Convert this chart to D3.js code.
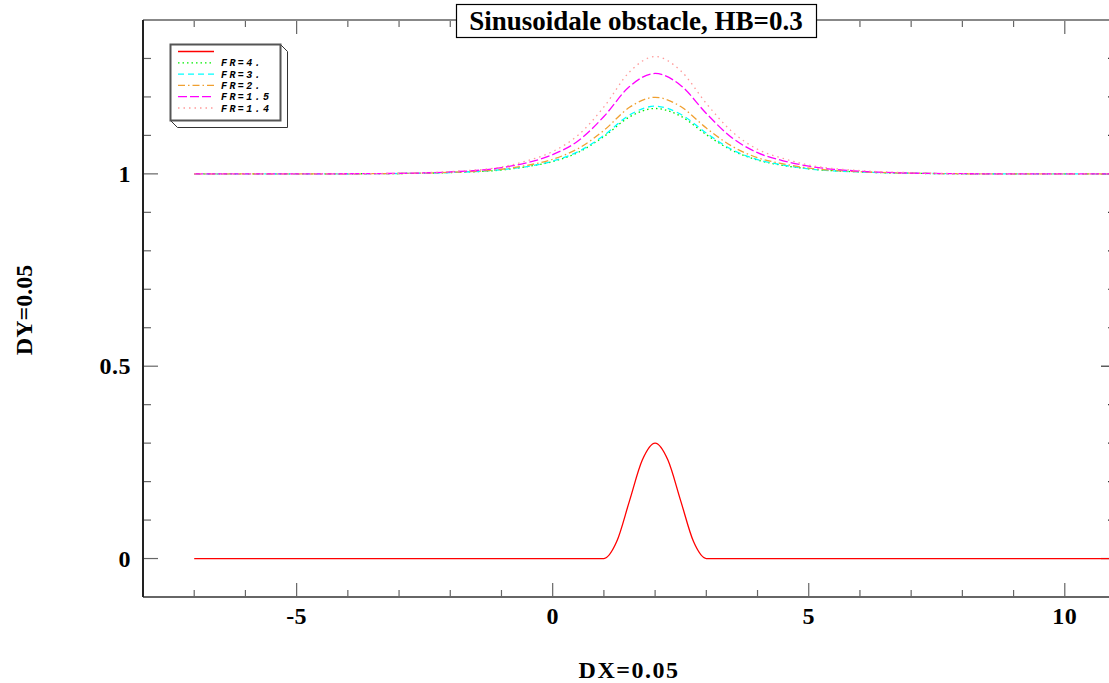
<!DOCTYPE html>
<html>
<head>
<meta charset="utf-8">
<title>Sinusoidale obstacle</title>
<style>
  body { margin: 0; background: #fff; }
  svg { display: block; }
  .tick-label { font-family: "Liberation Serif", "Times New Roman", serif; font-weight: bold; font-size: 24px; letter-spacing: 0.5px; fill: #000; }
  .axis-title { font-family: "Liberation Serif", "Times New Roman", serif; font-weight: bold; font-size: 24px; letter-spacing: 1.5px; fill: #000; }
  .title { font-family: "Liberation Serif", "Times New Roman", serif; font-weight: bold; font-size: 27px; fill: #000; }
  .leg { font-family: "Liberation Mono", "Courier New", monospace; font-weight: bold; font-style: italic; font-size: 10px; letter-spacing: 2.4px; fill: #000; }
</style>
</head>
<body>
<div id="chart"></div>
<script src="https://d3js.org/d3.v7.min.js"></script>
<script>
(function(d3) {
  'use strict';

  // abscissa of the free surface samples
  var xs = [-7, -5, -4, -3, -2, -1, -0.5, 0, 0.5, 1, 1.5, 2, 2.5, 3, 3.5, 4, 4.5, 5, 6, 7, 8, 9, 11];

  // free surface for each Froude number
  var fr4  = [1, 1, 1.0002, 1.0009, 1.0034, 1.010, 1.019, 1.032, 1.056, 1.097, 1.148, 1.170, 1.150, 1.102, 1.061, 1.036, 1.022, 1.013, 1.005, 1.0015, 1.0003, 1, 1];
  var fr3  = [1, 1, 1.0002, 1.0009, 1.0035, 1.011, 1.019, 1.033, 1.058, 1.100, 1.153, 1.176, 1.155, 1.106, 1.063, 1.037, 1.023, 1.013, 1.005, 1.0016, 1.0004, 1, 1];
  var fr2  = [1, 1, 1.0002, 1.001, 1.004, 1.012, 1.022, 1.038, 1.066, 1.113, 1.173, 1.199, 1.175, 1.119, 1.072, 1.042, 1.026, 1.015, 1.0056, 1.0018, 1.0004, 1, 1];
  var fr15 = [1, 1, 1.0003, 1.0013, 1.005, 1.016, 1.029, 1.050, 1.086, 1.149, 1.227, 1.261, 1.230, 1.157, 1.094, 1.055, 1.034, 1.020, 1.007, 1.002, 1.0005, 1, 1];
  var fr14 = [1, 1, 1.0003, 1.0015, 1.006, 1.018, 1.034, 1.058, 1.101, 1.174, 1.265, 1.305, 1.268, 1.183, 1.110, 1.064, 1.040, 1.023, 1.0085, 1.003, 1.0006, 1, 1];

  // bottom obstacle
  var obsX = [-7, 1, 1.25, 1.5, 1.75, 2, 2.25, 2.5, 2.75, 3, 11];
  var obsY = [0, 0, 0.044, 0.15, 0.256, 0.3, 0.256, 0.15, 0.044, 0, 0];

  var labels = ['', 'FR=4.', 'FR=3.', 'FR=2.', 'FR=1.5', 'FR=1.4'];
  var colors = ['#ff0000', '#00ee00', '#00ffff', '#f0a030', '#ff00ff', '#ff9a9a'];
  var dashes = [null, '1.5,3', '6,4', '7,3,1.5,3', '9,3', '1.5,4'];

  var xTicks = [-5, 0, 5, 10];
  var yTicks = [0, 0.5, 1];

  var width = 1109, height = 683;
  var margin = { left: 143, top: 20, bottom: 86 };

  var x = d3.scaleLinear().domain([-8, 11]).range([margin.left, 1116]);
  var y = d3.scaleLinear().domain([-0.1, 1.4]).range([height - margin.bottom, margin.top]);

  var svg = d3.select('#chart').append('svg')
    .attr('width', width)
    .attr('height', height);

  var series = [
    { xs: obsX, ys: obsY },
    { xs: xs, ys: fr4 },
    { xs: xs, ys: fr3 },
    { xs: xs, ys: fr2 },
    { xs: xs, ys: fr15 },
    { xs: xs, ys: fr14 }
  ];

  var line = d3.line()
    .x(function(d) { return x(d[0]); })
    .y(function(d) { return y(d[1]); })
    .curve(d3.curveMonotoneX);

  // frame ticks
  var minorX = d3.range(-8, 12, 1);
  var minorY = d3.range(-0.1, 1.45, 0.1).map(function(v) { return Math.round(v * 10) / 10; });
  var tk = svg.append('g').attr('stroke', '#666').attr('stroke-width', 1.2);

  minorX.forEach(function(v) {
    var len = xTicks.indexOf(v) >= 0 ? 14 : 7;
    tk.append('line').attr('x1', x(v)).attr('x2', x(v))
      .attr('y1', y(-0.1)).attr('y2', y(-0.1) - len);
    tk.append('line').attr('x1', x(v)).attr('x2', x(v))
      .attr('y1', y(1.4)).attr('y2', y(1.4) + len);
  });
  minorY.forEach(function(v) {
    var len = yTicks.indexOf(v) >= 0 ? 15 : 8;
    tk.append('line').attr('x1', x(-8)).attr('x2', x(-8) + len)
      .attr('y1', y(v)).attr('y2', y(v));
    tk.append('line').attr('x1', x(11)).attr('x2', x(11) - len)
      .attr('y1', y(v)).attr('y2', y(v)).attr('stroke', '#333');
  });

  // frame
  svg.append('line').attr('x1', x(-8)).attr('x2', x(11)).attr('y1', y(1.4)).attr('y2', y(1.4))
    .attr('stroke', '#888').attr('stroke-width', 2);
  svg.append('line').attr('x1', x(-8)).attr('x2', x(11)).attr('y1', y(-0.1)).attr('y2', y(-0.1))
    .attr('stroke', '#666').attr('stroke-width', 2);
  svg.append('line').attr('x1', x(-8)).attr('x2', x(-8)).attr('y1', y(1.4)).attr('y2', y(-0.1))
    .attr('stroke', '#222').attr('stroke-width', 2);

  // tick labels
  svg.selectAll('.xl').data(xTicks).enter().append('text')
    .attr('class', 'tick-label')
    .attr('x', function(d) { return x(d); })
    .attr('y', 624)
    .attr('text-anchor', 'middle')
    .text(function(d) { return d; });

  svg.selectAll('.yl').data(yTicks).enter().append('text')
    .attr('class', 'tick-label')
    .attr('x', 131)
    .attr('y', function(d) { return y(d) + 8; })
    .attr('text-anchor', 'end')
    .text(function(d) { return d; });

  svg.append('text').attr('class', 'axis-title')
    .attr('x', 629).attr('y', 678).attr('text-anchor', 'middle')
    .text('DX=0.05');
  svg.append('text').attr('class', 'axis-title')
    .attr('transform', 'translate(32,310) rotate(-90)')
    .attr('text-anchor', 'middle')
    .style('letter-spacing', '0px')
    .text('DY=0.05');

  // curves
  svg.append('g').selectAll('path').data(series).enter().append('path')
    .attr('fill', 'none')
    .attr('stroke', function(d, i) { return colors[i]; })
    .attr('stroke-width', 1.3)
    .attr('stroke-dasharray', function(d, i) { return dashes[i]; })
    .attr('d', function(d) { return line(d3.zip(d.xs, d.ys)); });

  // title
  svg.append('rect').attr('x', 456.5).attr('y', 4.5).attr('width', 360).attr('height', 33)
    .attr('fill', '#fff').attr('stroke', '#000').attr('stroke-width', 1.2);
  svg.append('text').attr('class', 'title')
    .attr('x', 636).attr('y', 30).attr('text-anchor', 'middle')
    .text('Sinusoidale obstacle, HB=0.3');

  // legend box with 3d edge
  var lx = 170.5, ly = 44.5, lw = 110, lh = 76, d = 7;
  var lg = svg.append('g').attr('stroke', '#333').attr('stroke-width', 1).attr('fill', '#fff');
  lg.append('path').attr('d', 'M' + (lx + lw) + ',' + ly + 'l' + d + ',' + d + 'v' + lh +
    'h' + (-lw) + 'l' + (-d) + ',' + (-d) + 'z');
  lg.append('rect').attr('x', lx).attr('y', ly).attr('width', lw).attr('height', lh)
    .attr('stroke', '#555').attr('stroke-width', 2);

  var leg = svg.append('g');
  labels.forEach(function(lab, i) {
    var yy = 51.5 + i * 11.3;
    leg.append('line').attr('x1', 178).attr('x2', 214).attr('y1', yy).attr('y2', yy)
      .attr('stroke', colors[i]).attr('stroke-width', 1.3)
      .attr('stroke-dasharray', dashes[i]);
    leg.append('text').attr('class', 'leg').attr('x', 221).attr('y', yy + 3.5).text(lab);
  });

})(window.d3);
</script>
</body>
</html>
